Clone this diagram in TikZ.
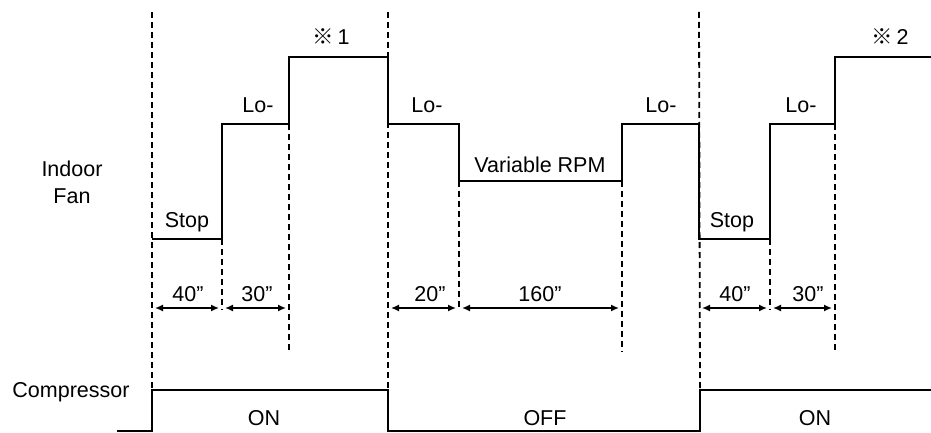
\documentclass[tikz,border=0pt]{standalone}
\usepackage{fontspec}
\setmainfont{Liberation Sans}
\newfontfamily\cjkfont{Noto Sans CJK JP}
\usetikzlibrary{arrows.meta}
\begin{document}
\begin{tikzpicture}[x=1pt,y=-1pt,
 wave/.style={line width=2.2pt, line join=miter},
 guide/.style={line width=1.8pt, dash pattern=on 6pt off 4pt},
 dim/.style={line width=1.5pt, {Latex[length=8pt,width=7pt]}-{Latex[length=8pt,width=7pt]}},
 lbl/.style={font=\fontsize{21.5}{25}\selectfont, inner sep=0pt, anchor=base},
]
\useasboundingbox (0,0) rectangle (931,433);
% fan waveform points
\coordinate (f0) at (152,239);
\coordinate (f1) at (222,239);
\coordinate (f2) at (222,124);
\coordinate (f3) at (289,124);
\coordinate (f4) at (289,57);
\coordinate (f5) at (388,57);
\coordinate (f6) at (388,124);
\coordinate (f7) at (459,124);
\coordinate (f8) at (459,181);
\coordinate (f9) at (622,181);
\coordinate (f10) at (622,124);
\coordinate (f11) at (699,124);
\coordinate (f12) at (699,239);
\coordinate (f13) at (770,239);
\coordinate (f14) at (770,124);
\coordinate (f15) at (835,124);
\coordinate (f16) at (835,57);
\coordinate (f17) at (931,57);
\draw[wave] (f0) -- (f1) -- (f2) -- (f3) -- (f4) -- (f5) -- (f6) -- (f7) -- (f8) -- (f9) -- (f10) -- (f11) -- (f12) -- (f13) -- (f14) -- (f15) -- (f16) -- (f17);
% compressor waveform
\coordinate (c0) at (117,431);
\coordinate (c1) at (152,431);
\coordinate (c2) at (152,390);
\coordinate (c3) at (388,390);
\coordinate (c4) at (388,431);
\coordinate (c5) at (700,431);
\coordinate (c6) at (700,390);
\coordinate (c7) at (931,390);
\draw[wave] (c0) -- (c1) -- (c2) -- (c3) -- (c4) -- (c5) -- (c6) -- (c7);
% dashed guides
\coordinate (t1) at (152,12);
\coordinate (t2) at (388,12);
\coordinate (t3) at (699,12);
\coordinate (b1) at (222,310);
\coordinate (b2) at (289,350);
\coordinate (b3) at (459,310);
\coordinate (b4) at (622,352);
\coordinate (b5) at (770,310);
\coordinate (b6) at (835,352);
\draw[guide] (t1) -- (c2);
\draw[guide] (t2) -- (c3);
\draw[guide] (t3) -- (c6);
\draw[guide] (f1) -- (b1);
\draw[guide] (f3) -- (b2);
\draw[guide] (f8) -- (b3);
\draw[guide] (f9) -- (b4);
\draw[guide] (f13) -- (b5);
\draw[guide] (f15) -- (b6);
% dimension arrows
\coordinate (d1a) at (155,308); \coordinate (d1b) at (219,308);
\coordinate (d2a) at (225,308); \coordinate (d2b) at (286,308);
\coordinate (d3a) at (391,308); \coordinate (d3b) at (456,308);
\coordinate (d4a) at (462,308); \coordinate (d4b) at (619,308);
\coordinate (d5a) at (702,308); \coordinate (d5b) at (767,308);
\coordinate (d6a) at (773,308); \coordinate (d6b) at (832,308);
\draw[dim] (d1a) -- (d1b);
\draw[dim] (d2a) -- (d2b);
\draw[dim] (d3a) -- (d3b);
\draw[dim] (d4a) -- (d4b);
\draw[dim] (d5a) -- (d5b);
\draw[dim] (d6a) -- (d6b);
% labels
\node[lbl] (m1) at (331,45) {{\cjkfont ※}\,1};
\node[lbl] (m2) at (890,45) {{\cjkfont ※}\,2};
\node[lbl] (lo1) at (258,113) {Lo-};
\node[lbl] (lo2) at (427,113) {Lo-};
\node[lbl] (lo3) at (661,113) {Lo-};
\node[lbl] (lo4) at (801,113) {Lo-};
\node[lbl] (var) at (540,172) {Variable RPM};
\node[lbl] (st1) at (187,227) {Stop};
\node[lbl] (st2) at (732,227) {Stop};
\node[lbl] (in1) at (72,176) {Indoor};
\node[lbl] (in2) at (72,203) {Fan};
\node[lbl] (comp) at (71,397) {Compressor};
\node[lbl] (on1) at (264,425) {ON};
\node[lbl] (off) at (545,425) {OFF};
\node[lbl] (on2) at (815,425) {ON};
\node[lbl] (t40a) at (188,301) {40”};
\node[lbl] (t30a) at (257,301) {30”};
\node[lbl] (t20) at (430,301) {20”};
\node[lbl] (t160) at (540,301) {160”};
\node[lbl] (t40b) at (735,301) {40”};
\node[lbl] (t30b) at (808,301) {30”};
\end{tikzpicture}
\end{document}
